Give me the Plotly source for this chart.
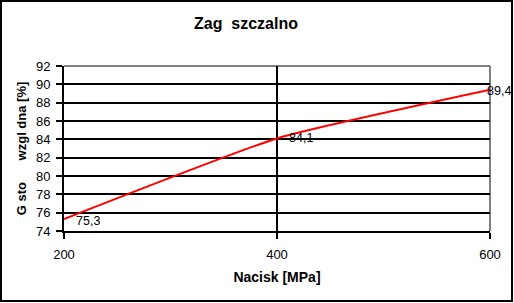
import plotly.graph_objects as go

# Data
nacisk = [200, 400, 600]
gestosc = [75.3, 84.1, 89.4]
x_ticks = [200, 400, 600]
y_ticks = [74, 76, 78, 80, 82, 84, 86, 88, 90, 92]
label_xshift = [10, 10, -5]
label_yshift = [-2, 0, -1]

title_text = "Zag\u00a0\u00a0szczalno"
x_title = "Nacisk [MPa]"
y_title = "G\u00a0sto\u00a0\u00a0\u00a0\u00a0\u00a0\u00a0wzgl\u00a0dna\u00a0[%]"

FONT = "Liberation Sans, Arial, sans-serif"

W, H = 514, 303
L, R, T, B = 64, 24, 66, 72
pw, ph = W - L - R, H - T - B

fig = go.Figure()
fig.add_trace(go.Scatter(
    x=nacisk, y=gestosc, mode="lines",
    line=dict(color="#ff0000", width=2, shape="spline", smoothing=0.45),
    hoverinfo="skip", showlegend=False, cliponaxis=False,
))

for xv, yv, xs, ys in zip(nacisk, gestosc, label_xshift, label_yshift):
    fig.add_annotation(
        x=xv, y=yv, xref="x", yref="y",
        text=f"{yv:.1f}".replace(".", ","),
        showarrow=False, xanchor="left", yanchor="middle",
        xshift=xs, yshift=ys,
        font=dict(family=FONT, size=12.5, color="#000000"),
    )

# gray frame on top and right
fig.add_shape(type="line", xref="paper", yref="paper", x0=0, x1=1, y0=1, y1=1,
              line=dict(color="#808080", width=2), layer="between")
fig.add_shape(type="line", xref="paper", yref="paper", x0=1, x1=1, y0=0, y1=1,
              line=dict(color="#808080", width=2), layer="between")

# outer border of the whole figure
fig.add_shape(type="rect", xref="paper", yref="paper",
              x0=(1 - L) / pw, x1=(W - 2 - L) / pw,
              y0=-(H - 2 - (T + ph)) / ph, y1=(T + ph - 1) / ph,
              line=dict(color="#000000", width=2), fillcolor="rgba(0,0,0,0)",
              layer="above")

fig.update_layout(
    width=W, height=H,
    margin=dict(l=L, r=R, t=T, b=B, pad=0),
    paper_bgcolor="#ffffff", plot_bgcolor="#ffffff",
    font=dict(family=FONT, size=12, color="#000000"),
    title=dict(text=title_text, x=(246 - L) / pw, xref="paper", xanchor="center",
               y=1 - 23 / H, yref="container", yanchor="middle",
               font=dict(family=FONT, size=16, color="#000000", weight="bold")),
    xaxis=dict(
        range=[200, 600], tickvals=x_ticks, ticktext=[str(v) for v in x_ticks],
        showgrid=True, gridcolor="#000000", gridwidth=2,
        showline=True, linecolor="#000000", linewidth=2,
        ticks="outside", ticklen=6, tickwidth=2, tickcolor="#000000",
        ticklabelstandoff=4,
        zeroline=False,
        tickfont=dict(family=FONT, size=13),
        title=dict(text=x_title, standoff=12,
                   font=dict(family=FONT, size=14, weight="bold")),
    ),
    yaxis=dict(
        range=[74, 92], tickvals=y_ticks, ticktext=[str(v) for v in y_ticks],
        showgrid=True, gridcolor="#000000", gridwidth=2,
        showline=True, linecolor="#000000", linewidth=2,
        ticks="outside", ticklen=6, tickwidth=2, tickcolor="#000000",
        ticklabelstandoff=3,
        zeroline=False,
        tickfont=dict(family=FONT, size=13),
        title=dict(text=y_title, standoff=6,
                   font=dict(family=FONT, size=13, weight="bold")),
    ),
)

fig.write_html("out.html")
